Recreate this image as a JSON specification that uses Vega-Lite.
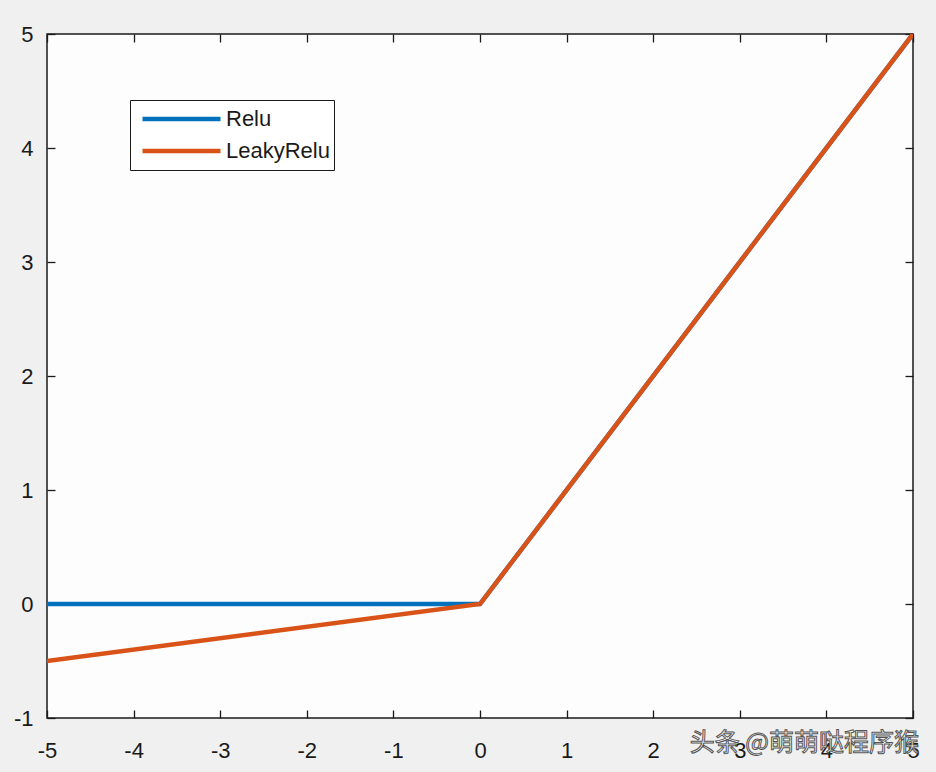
{
  "$schema": "https://vega.github.io/schema/vega-lite/v6.json",
  "autosize": {"type": "none"},
  "width": 866,
  "height": 684,
  "padding": {"left": 47, "top": 34, "right": 23, "bottom": 54},
  "background": "#f0f0f0",
  "config": {
    "view": {"fill": "#fdfdfd", "stroke": "#1a1a1a", "strokeWidth": 1.5},
    "axis": {
      "grid": false,
      "domain": false,
      "tickColor": "#1a1a1a",
      "tickWidth": 1.3,
      "tickSize": -8,
      "labelFont": "Liberation Sans",
      "labelFontSize": 22,
      "labelColor": "#1a1a1a",
      "title": null
    }
  },
  "datasets": {
    "curves": [
      {"x": -5, "y": 0, "series": "Relu"},
      {"x": 0, "y": 0, "series": "Relu"},
      {"x": 5, "y": 5, "series": "Relu"},
      {"x": -5, "y": -0.5, "series": "LeakyRelu"},
      {"x": 0, "y": 0, "series": "LeakyRelu"},
      {"x": 5, "y": 5, "series": "LeakyRelu"}
    ]
  },
  "resolve": {"axis": {"x": "independent", "y": "independent"}},
  "layer": [
    {
      "data": {"name": "curves"},
      "mark": {"type": "line", "strokeWidth": 4.5, "clip": true},
      "encoding": {
        "x": {
          "field": "x", "type": "quantitative",
          "scale": {"domain": [-5, 5], "nice": false, "zero": false},
          "axis": {"orient": "bottom", "values": [-5,-4,-3,-2,-1,0,1,2,3,4,5], "labelPadding": 30, "labelFlush": false, "labelFontSize": 22, "labelExpr": "datum.value < 0 ? '-' + abs(datum.value) : '' + datum.value"}
        },
        "y": {
          "field": "y", "type": "quantitative",
          "scale": {"domain": [-1, 5], "nice": false, "zero": false},
          "axis": {"orient": "left", "values": [-1,0,1,2,3,4,5], "labelPadding": 22, "labelFlush": false, "labelFontSize": 22, "labelExpr": "datum.value < 0 ? '-' + abs(datum.value) : '' + datum.value"}
        },
        "color": {
          "field": "series", "type": "nominal",
          "scale": {"domain": ["Relu", "LeakyRelu"], "range": ["#0072BD", "#D95319"]},
          "legend": {
            "orient": "none",
            "legendX": 83,
            "legendY": 66,
            "title": null,
            "symbolType": "stroke",
            "symbolSize": 6084,
            "symbolStrokeWidth": 4.5,
            "clipHeight": 30,
            "rowPadding": 2,
            "padding": 4,
            "symbolOffset": 6,
            "labelOffset": 3,
            "labelFont": "Liberation Sans",
            "labelFontSize": 22,
            "labelColor": "#1a1a1a",
            "strokeColor": "#1a1a1a",
            "fillColor": "#ffffff"
          }
        },
        "order": {"field": "x", "type": "quantitative"}
      }
    },
    {
      "data": {"name": "curves"},
      "mark": {"type": "point", "opacity": 0},
      "encoding": {
        "x": {
          "field": "x", "type": "quantitative",
          "axis": {"orient": "top", "values": [-5,-4,-3,-2,-1,0,1,2,3,4,5], "labels": false}
        },
        "y": {
          "field": "y", "type": "quantitative",
          "axis": {"orient": "right", "values": [-1,0,1,2,3,4,5], "labels": false}
        }
      }
    },
    {
      "data": {"values": [{"x": 5, "y": -1, "label": "头条 @萌萌哒程序猴"}]},
      "mark": {
        "type": "text",
        "align": "right",
        "baseline": "middle",
        "dx": 6,
        "dy": 25,
        "font": "Noto Sans CJK SC",
        "fontSize": 25,
        "fill": "#ffffff",
        "stroke": "#555555",
        "strokeWidth": 1
      },
      "encoding": {
        "x": {"field": "x", "type": "quantitative", "axis": null},
        "y": {"field": "y", "type": "quantitative", "axis": null},
        "text": {"field": "label"}
      }
    }
  ]
}
